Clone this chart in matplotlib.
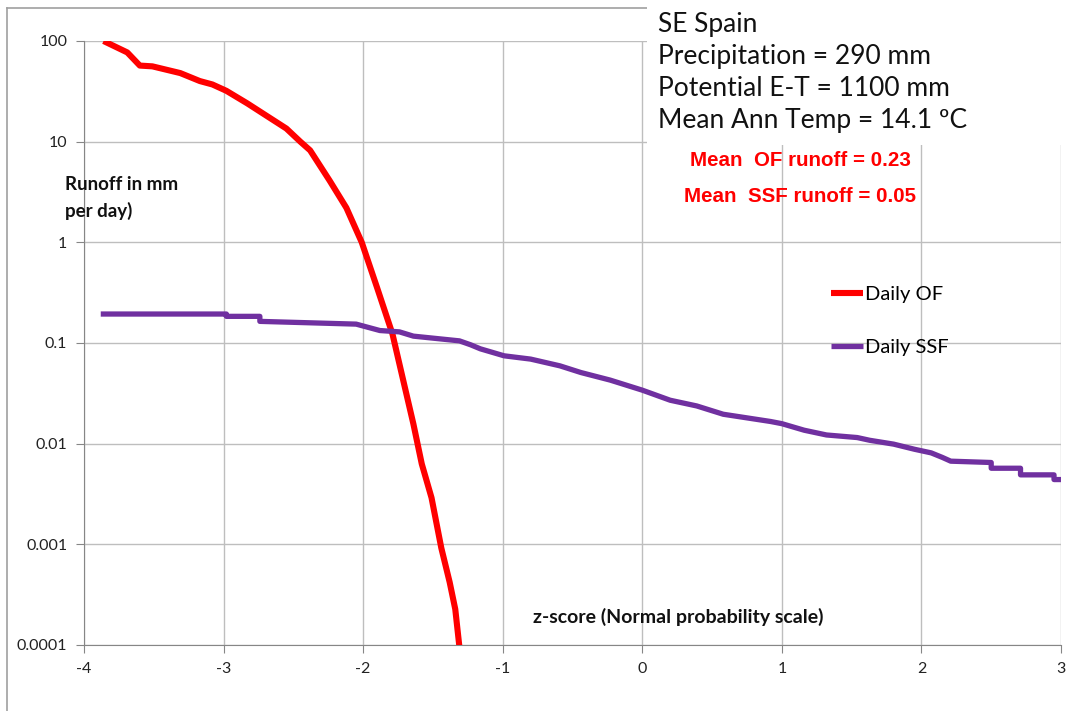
import matplotlib
matplotlib.use("Agg")
import matplotlib.pyplot as plt
from matplotlib.lines import Line2D
from matplotlib.patches import Rectangle

# Daily overland flow (OF) runoff
of_z = [-3.86, -3.69, -3.60, -3.51, -3.31, -3.17, -3.08, -2.98, -2.83, -2.69,
        -2.55, -2.45, -2.38, -2.24, -2.12, -2.01, -1.90, -1.79, -1.70, -1.64,
        -1.58, -1.51, -1.44, -1.38, -1.34, -1.31]
of_mm = [100, 77, 57, 56, 48, 40, 37, 32, 24, 18,
         13.5, 10, 8.2, 4.1, 2.2, 1.0, 0.354, 0.123, 0.0357, 0.0157,
         0.0063, 0.0029, 0.00092, 0.00042, 0.000227, 0.000095]

# Daily subsurface flow (SSF) runoff
ssf_z = [-3.88, -2.98, -2.98, -2.74, -2.74, -2.40, -2.05, -1.88, -1.74, -1.64,
         -1.31, -1.23, -1.16, -0.99, -0.80, -0.59, -0.44, -0.23, 0.0, 0.20,
         0.39, 0.58, 0.92, 1.0, 1.16, 1.32, 1.54, 1.63, 1.80, 1.95,
         2.07, 2.15, 2.21, 2.50, 2.50, 2.71, 2.71, 2.95, 2.95, 3.0]
ssf_mm = [0.194, 0.194, 0.184, 0.184, 0.164, 0.159, 0.154, 0.133, 0.129, 0.117,
          0.105, 0.096, 0.0875, 0.0746, 0.0692, 0.0593, 0.0509, 0.0428, 0.034, 0.027,
          0.0237, 0.0196, 0.0166, 0.0158, 0.0136, 0.0122, 0.0115, 0.0108, 0.0099, 0.0088,
          0.0081, 0.0073, 0.0067, 0.0065, 0.0057, 0.0057, 0.0049, 0.0049, 0.0044, 0.0044]

x_ticks = [-4, -3, -2, -1, 0, 1, 2, 3]
y_ticks = [0.0001, 0.001, 0.01, 0.1, 1, 10, 100]
y_labels = ["0.0001", "0.001", "0.01", "0.1", "1", "10", "100"]

site_lines = ["SE Spain", "Precipitation = 290 mm", "Potential E-T = 1100 mm",
              "Mean Ann Temp = 14.1 \u00baC"]
mean_lines = ["Mean  OF runoff = 0.23", "Mean  SSF runoff = 0.05"]

plt.rcParams["font.family"] = ["Lato", "DejaVu Sans"]
W, H = 1080, 711
fig = plt.figure(figsize=(W / 100, H / 100), dpi=100)
ax = fig.add_axes([84 / W, 1 - 645 / H, (1061 - 84) / W, (645 - 41) / H])


def fx(px):
    return px / W


def fy(py):
    return 1 - py / H


grid_c = "#bebebe"
ax.plot(of_z, of_mm, color="#ff0000", lw=4.4, label="Daily OF",
        solid_capstyle="butt", solid_joinstyle="round", zorder=3)
ax.plot(ssf_z, ssf_mm, color="#7030a0", lw=3.8, label="Daily SSF",
        solid_capstyle="butt", zorder=3)

ax.set_yscale("log")
ax.set_xlim(-4, 3)
ax.set_ylim(0.0001, 100)
ax.set_xticks(x_ticks)
ax.set_xticklabels([str(v) for v in x_ticks])
ax.set_yticks(y_ticks)
ax.set_yticklabels(y_labels)
ax.minorticks_off()
ax.grid(True, color=grid_c, lw=1)
ax.set_axisbelow(True)
for s in ["top", "right"]:
    ax.spines[s].set_visible(False)
for s in ["left", "bottom"]:
    ax.spines[s].set_color("#868686")
ax.tick_params(colors="#868686", labelcolor="#222222", labelsize=11.5,
               length=6, direction="out")
ax.tick_params(axis="x", pad=6)
ax.tick_params(axis="y", pad=6)

ax.legend(loc="upper left", bbox_to_anchor=(fx(813), fy(268)),
          bbox_transform=fig.transFigure, frameon=False, fontsize=14.5,
          handlelength=1.6, handletextpad=0.1, labelspacing=1.75)

# outer chart frame
fig.add_artist(Line2D([fx(7), fx(7)], [fy(8), 0], color="#a0a0a0", lw=1.2))
fig.add_artist(Line2D([fx(7), 1], [fy(8), fy(8)], color="#a0a0a0", lw=1.2))

# white text box top right
fig.add_artist(Rectangle((fx(647), fy(145)), 1 - fx(647), 1 - fy(145),
                         transform=fig.transFigure, facecolor="white",
                         edgecolor="none", zorder=5))
for i, t in enumerate(site_lines):
    fig.text(fx(658), fy(32 + 32 * i), t, fontsize=19, color="#111111",
             va="baseline", ha="left", zorder=6)

for i, t in enumerate(mean_lines):
    fig.text(fx(800), fy(161 + 35 * i), t, fontsize=14.8, color="#ff0000",
             fontweight="bold", family="Liberation Sans",
             ha="center", va="center", zorder=6)

fig.text(fx(65), fy(184), "Runoff in mm", fontsize=13.5, fontweight="bold",
         ha="left", va="center", color="#111111")
fig.text(fx(65), fy(211), "per day)", fontsize=13.5, fontweight="bold",
         ha="left", va="center", color="#111111")
fig.text(fx(678), fy(617), "z-score (Normal probability scale)", fontsize=14,
         fontweight="bold", ha="center", va="center", color="#111111")

fig.savefig("out.png", dpi=100)
